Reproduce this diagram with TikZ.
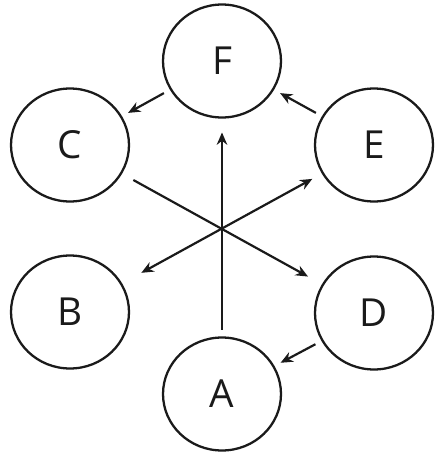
\documentclass[tikz,border=0pt]{standalone}
\usepackage{fontspec}
\setmainfont{Open Sans}
\usetikzlibrary{arrows.meta, shapes.geometric}
\definecolor{inkgray}{HTML}{1A1A1A}

\begin{document}
\begin{tikzpicture}[
    x=0.02cm, y=-0.02cm,
    >={Stealth[length=7pt, width=6pt]},
    every node/.style={text=inkgray},
    state/.style={draw=inkgray, ellipse, line width=1.3pt,
      minimum width=2.36cm, minimum height=2.26cm, inner sep=0pt,
      outer sep=0.16cm, font=\fontsize{22}{26}\selectfont},
    link/.style={->, draw=inkgray, line width=1.25pt},
  ]

  % ══════════════════════════════════════════════════════
  % Background
  % ══════════════════════════════════════════════════════
  \fill[white] (0,0) rectangle (435,454);

  % ══════════════════════════════════════════════════════
  % States (hexagon ring)
  % ══════════════════════════════════════════════════════
  \node[state] (F) at (222, 61) {F};
  \node[state] (C) at (70, 145) {C};
  \node[state] (E) at (374, 145) {E};
  \node[state] (B) at (70, 312) {B};
  \node[state] (D) at (374, 313) {D};
  \node[state] (A) at (222, 394) {A};

  % ══════════════════════════════════════════════════════
  % Outer arrows
  % ══════════════════════════════════════════════════════
  \draw[link] (F) -- (C);
  \draw[link] (E) -- (F);
  \draw[link] (D) -- (A);

  % ══════════════════════════════════════════════════════
  % Crossing arrows through the middle
  % ══════════════════════════════════════════════════════
  \draw[link, shorten >=0.14cm] (A) -- (F);
  \draw[link, shorten <=0.12cm, shorten >=0.18cm] (C) -- (D);
  \draw[link, <->, shorten <=0.3cm, shorten >=0.08cm] (B) -- (E);

\end{tikzpicture}
\end{document}
